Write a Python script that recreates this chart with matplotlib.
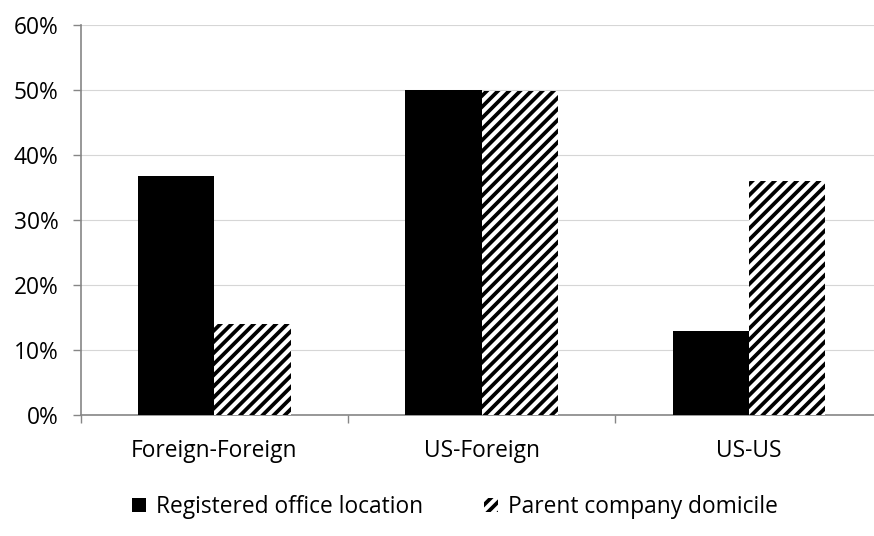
import matplotlib
matplotlib.use("Agg")
import matplotlib.pyplot as plt
import numpy as np

categories = ["Foreign-Foreign", "US-Foreign", "US-US"]
registered = [36.8, 50.0, 12.9]
parent = [14.0, 49.8, 36.0]
series_names = ["Registered office location", "Parent company domicile"]
yticks = [0, 10, 20, 30, 40, 50, 60]
ytick_labels = ["0%", "10%", "20%", "30%", "40%", "50%", "60%"]

DPI = 100
FS = 16.4
plt.rcParams['font.family'] = ['Open Sans', 'DejaVu Sans']
plt.rcParams['hatch.linewidth'] = 2.7
W, H = 874, 536
fig = plt.figure(figsize=(W / DPI, H / DPI), dpi=DPI)
ax = fig.add_axes([80.6 / W, (H - 415) / H, (882.7 - 80.6) / W, 390 / H])

x = np.arange(len(categories))
w = 0.2855
ax.bar(x - w / 2, registered, w, color='black', linewidth=0, label=series_names[0], zorder=3)
ax.bar(x + w / 2, parent, w, color='white', edgecolor='black', hatch='///', linewidth=0,
       label=series_names[1], zorder=3)

ax.set_xlim(-0.5, 2.5)
ax.set_ylim(0, 60)
ax.set_yticks(yticks)
ax.set_yticklabels(ytick_labels)
ax.yaxis.grid(True, color='#d6d6d6', linewidth=0.8, zorder=0)
ax.set_axisbelow(True)

ax.set_xticks([-0.5, 0.5, 1.5, 2.5])
ax.set_xticklabels([])
ax.set_xticks(x, minor=True)
ax.set_xticklabels(categories, minor=True)
ax.tick_params(axis='x', which='major', direction='out', length=6, width=1.0, color='#868686')
ax.tick_params(axis='x', which='minor', length=0, pad=17, labelsize=FS)
ax.tick_params(axis='y', direction='out', length=6, width=1.0, color='#868686', labelsize=FS, pad=10)

for s in ['top', 'right']:
    ax.spines[s].set_visible(False)
for s in ['left', 'bottom']:
    ax.spines[s].set_color('#868686')
    ax.spines[s].set_linewidth(1.2)

fig.legend(loc='center', bbox_to_anchor=(455 / W, (H - 507) / H), ncol=2, frameon=False,
           fontsize=FS, handlelength=0.6, handleheight=0.6, handletextpad=0.45,
           columnspacing=2.7)

fig.savefig('out.png', dpi=DPI)
